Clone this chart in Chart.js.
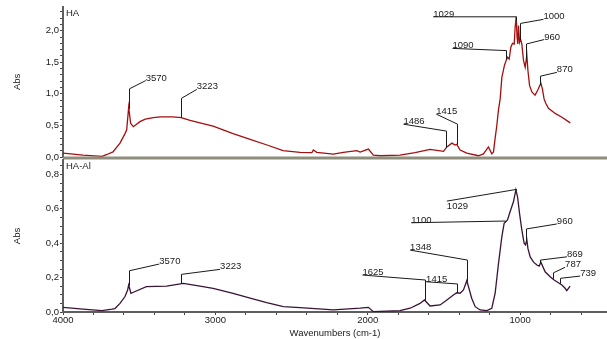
<!DOCTYPE html>
<html><head><meta charset="utf-8">
<script src="https://cdn.jsdelivr.net/npm/chart.js@4/dist/chart.umd.min.js"></script>
<style>
html,body{margin:0;padding:0;background:#fff;}
#wrap{position:relative;width:607px;height:339px;overflow:hidden;background:#fff;}
#c1{position:absolute;left:0;top:0;}
#c2{position:absolute;left:0;top:150px;}
</style></head><body>
<div id="wrap">
<canvas id="c1" width="607" height="166"></canvas>
<canvas id="c2" width="607" height="189"></canvas>
</div>
<script>
// ---- HA spectrum (wavenumber, absorbance)
const wnHA = [4000,3869,3744,3711,3672,3626,3593,3582,3569,3556,3538,3495,3460,3407,3360,3319,3280,3225,3166,3101,3015,2884,2772,2661,2556,2444,2367,2357,2335,2226,2160,2072,2050,1996,1963,1919,1788,1690,1591,1503,1481,1448,1427,1416,1394,1350,1274,1241,1208,1186,1175,1164,1153,1142,1131,1120,1103,1092,1083,1072,1061,1050,1039,1033,1026,1020,1015,1011,1004,998,989,978,967,956,949,938,923,902,884,864,854,843,832,814,770,726,671];
const absHA = [0.06,0.03,0.01,0.04,0.08,0.22,0.37,0.43,0.79,0.53,0.48,0.56,0.60,0.625,0.635,0.635,0.635,0.625,0.58,0.54,0.49,0.37,0.28,0.19,0.10,0.074,0.068,0.11,0.074,0.047,0.074,0.10,0.079,0.126,0.03,0.02,0.03,0.07,0.12,0.09,0.16,0.22,0.19,0.20,0.11,0.06,0.02,0.05,0.16,0.05,0.08,0.30,0.50,0.75,0.92,1.26,1.45,1.53,1.58,1.55,1.74,1.80,1.79,2.05,2.22,1.89,1.79,2.08,1.82,1.87,1.79,1.53,1.42,1.61,1.37,1.13,1.03,0.98,1.06,1.17,1.08,0.92,0.85,0.77,0.69,0.63,0.54];

// ---- HA-Al spectrum
const wnAl = [4000,3869,3744,3678,3659,3626,3593,3576,3569,3554,3538,3453,3320,3210,3101,3015,2884,2772,2663,2554,2444,2226,2050,1996,1963,1788,1722,1657,1628,1591,1525,1481,1438,1416,1394,1372,1350,1333,1318,1295,1263,1219,1186,1164,1142,1120,1105,1083,1066,1044,1028,1017,1004,989,974,965,956,949,934,912,890,875,864,836,803,777,749,726,705,694,683,672];
const absAl = [0.027,0.017,0.008,0.017,0.02,0.05,0.09,0.128,0.157,0.109,0.115,0.147,0.151,0.167,0.151,0.138,0.109,0.08,0.054,0.031,0.025,0.012,0.022,0.027,0.002,0.008,0.022,0.05,0.07,0.035,0.041,0.07,0.099,0.112,0.109,0.128,0.182,0.128,0.08,0.031,0.012,0.008,0.022,0.109,0.283,0.438,0.516,0.535,0.583,0.641,0.71,0.67,0.574,0.477,0.40,0.39,0.42,0.37,0.32,0.29,0.273,0.267,0.29,0.234,0.205,0.186,0.17,0.157,0.138,0.124,0.138,0.151];

// ---- peak labels (label, peak wavenumber, leader top value, text anchor wavenumber/value)
const peaksHA = [
  {label:'3570', wn:3570, top:1.08,  tx:3457, ty:1.21},
  {label:'3223', wn:3223, top:0.93,  tx:3122, ty:1.07},
  {label:'1486', wn:1486, top:0.41,  tx:1766, ty:0.52},
  {label:'1415', wn:1415, top:0.52,  tx:1551, ty:0.68},
  {label:'1090', wn:1090, top:1.685, tx:1444, ty:1.72},
  {label:'1029', wn:1029, top:2.22,  tx:1571, ty:2.22},
  {label:'1000', wn:1000, top:2.115, tx:847,  ty:2.18},
  {label:'960',  wn:960,  top:1.79,  tx:842,  ty:1.86},
  {label:'870',  wn:870,  top:1.28,  tx:759,  ty:1.34}
];
const peaksAl = [
  {label:'3570', wn:3570, top:0.24,  tx:3368, ty:0.279},
  {label:'3223', wn:3223, top:0.219, tx:2969, ty:0.248},
  {label:'1625', wn:1625, top:0.186, tx:2035, ty:0.215},
  {label:'1415', wn:1415, top:0.163, tx:1617, ty:0.176},
  {label:'1348', wn:1348, top:0.302, tx:1722, ty:0.36},
  {label:'1100', wn:1100, top:0.529, tx:1715, ty:0.519},
  {label:'1029', wn:1029, top:0.713, tx:1481, ty:0.645, below:true},
  {label:'960',  wn:960,  top:0.483, tx:759,  ty:0.512},
  {label:'869',  wn:869,  top:0.302, tx:693,  ty:0.321},
  {label:'787',  wn:787,  top:0.228, tx:705,  ty:0.26},
  {label:'739',  wn:739,  top:0.196, tx:606,  ty:0.209}
];
const xTickLabels = [4000, 3000, 2000, 1000];

const FONT = "'Liberation Sans', Arial, sans-serif";
const FS = 9.5;
const X_MIN = 430, X_MAX = 4000, X_STEP = 200;

function interp(xs, ys, x) {
  for (let i = 0; i < xs.length - 1; i++) {
    const a = xs[i], b = xs[i+1];
    if (x <= a && x >= b) { const t = (x - a) / (b - a); return ys[i] + t * (ys[i+1] - ys[i]); }
  }
  return ys[ys.length - 1];
}

function annPlugin(id, xs, ys, peaks, title, baseline) {
  return {
    id,
    afterDatasetsDraw(chart) {
      const {ctx, chartArea} = chart;
      const X = chart.scales.x, Y = chart.scales.y;
      ctx.save();
      if (baseline) {
        ctx.strokeStyle = '#8f8d7b'; ctx.lineWidth = 3;
        ctx.beginPath(); ctx.moveTo(chartArea.left, chartArea.bottom + 1); ctx.lineTo(chartArea.right, chartArea.bottom + 1); ctx.stroke();
      }
      ctx.strokeStyle = '#1a1a1a'; ctx.lineWidth = 1; ctx.fillStyle = '#1a1a1a';
      ctx.font = FS + 'px ' + FONT;
      peaks.forEach(p => {
        const px = Math.round(X.getPixelForValue(p.wn)) + 0.5;
        const p0 = Y.getPixelForValue(interp(xs, ys, p.wn));
        const p1 = Y.getPixelForValue(p.top);
        const tx = X.getPixelForValue(p.tx), ty = Y.getPixelForValue(p.ty);
        ctx.beginPath(); ctx.moveTo(px, p0); ctx.lineTo(px, p1); ctx.lineTo(tx, ty); ctx.stroke();
        ctx.textAlign = 'left';
        if (p.below) { ctx.textBaseline = 'top'; ctx.fillText(p.label, tx, ty + 1); }
        else { ctx.textBaseline = 'alphabetic'; ctx.fillText(p.label, tx, ty); }
      });
      ctx.textBaseline = 'middle';
      ctx.fillText(title, chartArea.left + 3, chartArea.top + 6.5);
      ctx.restore();
    }
  };
}

function yAxis(max, step, labelEvery) {
  return {
    type: 'linear', min: 0, max: max,
    afterFit: (s) => { s.width = 63; },
    afterBuildTicks: (s) => {
      const t = [];
      for (let v = 0; v <= max + 1e-9; v += step) t.push({value: Math.round(v * 1000) / 1000});
      s.ticks = t;
    },
    border: {display: true, color: '#5e5e5e', width: 2},
    grid: {display: true, drawOnChartArea: false, drawTicks: true, tickLength: 3, color: '#444'},
    ticks: {
      autoSkip: false, padding: 1,
      color: '#1a1a1a', font: {family: FONT, size: FS},
      callback: (v) => Math.abs(v / labelEvery - Math.round(v / labelEvery)) < 1e-6 ? Number(v).toFixed(1).replace('.', ',') : ''
    },
    title: {display: true, text: 'Abs', color: '#1a1a1a', font: {family: FONT, size: FS}, padding: {top: 12, bottom: 0}}
  };
}

const common = {
  responsive: false, animation: false, events: [],
  plugins: {legend: {display: false}, tooltip: {enabled: false}}
};

new Chart(document.getElementById('c1'), {
  type: 'line',
  data: {datasets: [{data: wnHA.map((x, i) => ({x, y: absHA[i]})), borderColor: '#a60e0e', borderWidth: 1.3, pointRadius: 0, tension: 0, fill: false}]},
  options: Object.assign({}, common, {
    layout: {padding: {top: 6, bottom: 9, left: 0, right: 0}},
    scales: {
      x: {type: 'linear', min: X_MIN, max: X_MAX, reverse: true, display: false},
      y: yAxis(2.38, 0.1, 0.5)
    }
  }),
  plugins: [annPlugin('annHA', wnHA, absHA, peaksHA, 'HA', true)]
});

new Chart(document.getElementById('c2'), {
  type: 'line',
  data: {datasets: [{data: wnAl.map((x, i) => ({x, y: absAl[i]})), borderColor: '#3a1436', borderWidth: 1.3, pointRadius: 0, tension: 0, fill: false}]},
  options: Object.assign({}, common, {
    layout: {padding: {top: 10, bottom: 0, left: 0, right: 0}},
    scales: {
      x: {
        type: 'linear', min: X_MIN, max: X_MAX, reverse: true,
        afterFit: (s) => { s.height = 27; },
        afterBuildTicks: (s) => {
          const t = [];
          for (let v = X_MAX; v >= X_MIN; v -= X_STEP) t.push({value: v});
          s.ticks = t.reverse();
        },
        border: {display: true, color: '#5e5e5e', width: 2},
        grid: {display: true, drawOnChartArea: false, drawTicks: true, tickLength: 3, color: '#444'},
        ticks: {
          autoSkip: false, maxRotation: 0, minRotation: 0, padding: 0,
          color: '#1a1a1a', font: {family: FONT, size: FS},
          callback: (v) => xTickLabels.indexOf(Math.round(Number(v))) >= 0 ? String(Math.round(Number(v))) : ''
        },
        title: {display: true, text: 'Wavenumbers (cm-1)', color: '#1a1a1a', font: {family: FONT, size: FS}, padding: {top: 0, bottom: 0}}
      },
      y: yAxis(0.884, 0.05, 0.2)
    }
  }),
  plugins: [annPlugin('annAl', wnAl, absAl, peaksAl, 'HA-Al', false)]
});
</script>
</body></html>
